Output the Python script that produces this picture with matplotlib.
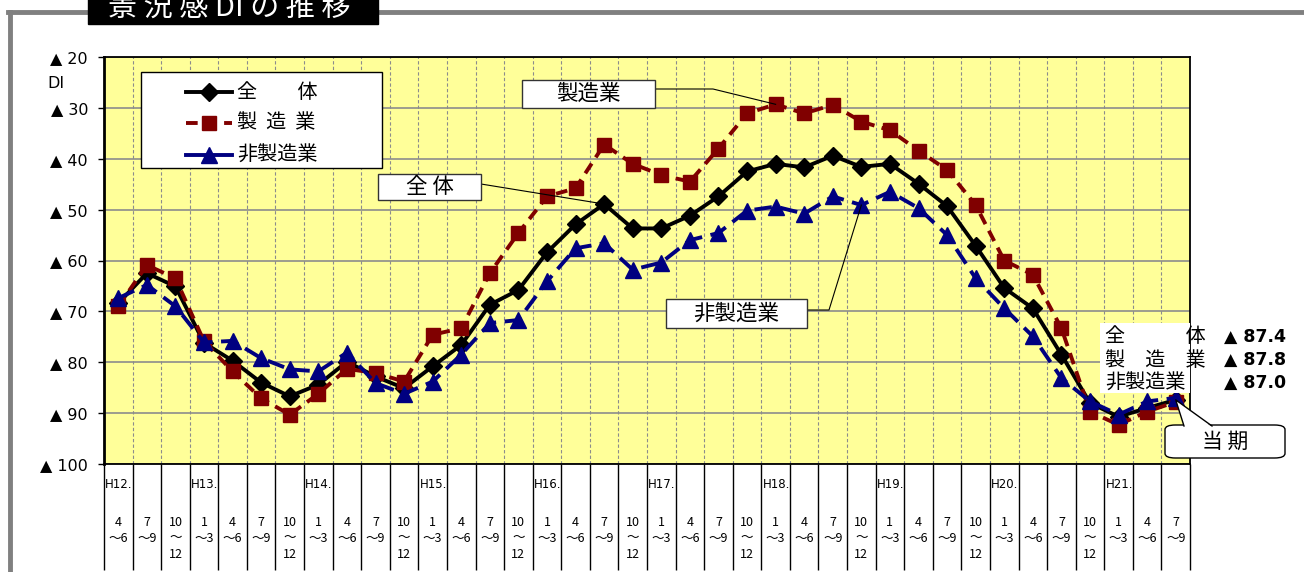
import numpy as np
import matplotlib.pyplot as plt
from matplotlib.lines import Line2D
from matplotlib.patches import Rectangle, FancyBboxPatch, Polygon

JP = ['Noto Sans CJK JP', 'DejaVu Sans']
NUM = ['DejaVu Sans', 'Noto Sans CJK JP']
plt.rcParams['font.family'] = JP

# --- data (DI, shown as negative values with ▲) ---
years = ['H12', 'H13', 'H14', 'H15', 'H16', 'H17', 'H18', 'H19', 'H20', 'H21']
quarter_rows = [('4', '～6', ''), ('7', '～9', ''), ('10', '～', '12'), ('1', '～3', '')]
first_quarter = 0   # H12 starts at 4~6
n_periods = 38

total = [68.4, 62.5, 65.1, 76.2, 79.7, 84.0, 86.7, 84.4, 79.9, 82.8, 85.1, 80.8,
         76.6, 68.7, 65.8, 58.4, 52.9, 48.9, 53.7, 53.7, 51.2, 47.4, 42.5, 41.0,
         41.7, 39.4, 41.6, 41.0, 44.9, 49.3, 57.1, 65.4, 69.4, 78.5, 88.0, 90.7,
         89.0, 87.4]
mfg = [69.0, 60.9, 63.5, 75.9, 81.8, 87.1, 90.3, 86.2, 81.3, 82.1, 83.8, 74.6,
       73.3, 62.5, 54.6, 47.4, 45.8, 37.2, 41.0, 43.2, 44.5, 38.0, 31.1, 29.3,
       31.1, 29.4, 32.7, 34.4, 38.4, 42.2, 49.1, 60.0, 62.8, 73.3, 89.7, 92.3,
       89.7, 87.8]
nonmfg = [67.4, 64.8, 69.0, 76.1, 75.8, 79.2, 81.4, 81.8, 78.1, 84.1, 86.2, 83.8,
          78.5, 72.3, 71.7, 64.1, 57.6, 56.6, 61.8, 60.4, 56.0, 54.6, 50.2, 49.4,
          50.8, 47.4, 49.1, 46.5, 49.7, 55.0, 63.5, 69.4, 74.9, 83.1, 87.7, 90.3,
          87.7, 87.0]

yticks = [20, 30, 40, 50, 60, 70, 80, 90, 100]
ytick_labels = ['▲ %d' % v for v in yticks]

series_names = ['全　　体', '製  造  業', '非製造業']
latest_names = ['全　　　体', '製　造　業', '非製造業']

# period labels
year_labels = []
q_labels = []
yi = 0
for i in range(n_periods):
    q = (first_quarter + i) % 4
    if q == 3:
        yi += 1
    year_labels.append(years[yi] + '.' if (i == 0 or q == 3) else '')
    q_labels.append(quarter_rows[q])

W, H = 1304, 572
fig = plt.figure(figsize=(W / 100, H / 100), dpi=100)

def fx(x):
    return x / W

def fy(y):
    return 1 - y / H

L, R, T, B = 104, 1190, 57, 464
ax = fig.add_axes([fx(L), fy(B), (R - L) / W, (B - T) / H])
ax.set_facecolor('#FFFF99')
ax.set_xlim(-0.5, n_periods - 0.5)
ax.set_ylim(100, 20)

x = np.arange(n_periods)
ax.plot(x, total, color='black', lw=2.8, marker='D', ms=9.5, zorder=4)
ax.plot(x, mfg, color='#800000', lw=2.8, dashes=(3, 1.9), marker='s', ms=10.5, zorder=5)
ax.plot(x, nonmfg, color='#000080', lw=2.8, dashes=(4.5, 2.2), marker='^', ms=11, zorder=6)

ax.set_yticks(yticks)
ax.set_yticklabels(ytick_labels, family=NUM, fontsize=11.5)
ax.set_xticks([])
ax.set_xticks(np.arange(-0.5, n_periods, 1), minor=True)
ax.tick_params(axis='x', which='both', length=0, labelbottom=False)
ax.tick_params(axis='y', length=4, width=1, pad=7.5)
ax.grid(axis='y', which='major', color='#8c8c8c', lw=1.2)
ax.grid(axis='x', which='minor', color='#8c8c8c', lw=0.8, ls=(0, (3, 2)))
ax.set_axisbelow(True)
for s in ax.spines.values():
    s.set_color('black')
    s.set_linewidth(1.3)
ax.spines['left'].set_linewidth(2)

# category table below the plot
tr = ax.get_xaxis_transform()
def ay(y):
    return (B - y) / (B - T)

ax.vlines(np.arange(-0.5, n_periods, 1), ay(570), 0, transform=tr, colors='black',
          lw=1, clip_on=False)
for i in range(n_periods):
    if year_labels[i]:
        ax.text(i - 0.46, ay(485), year_labels[i], transform=tr, fontsize=8.5,
                family=NUM, ha='left', va='center')
    for row, yy in zip(q_labels[i], [522, 538, 555]):
        if row:
            ax.text(i, ay(yy), row, transform=tr, fontsize=9, ha='center',
                    va='center')

fig.text(fx(56), fy(84), 'DI', family=NUM, fontsize=11.5, ha='center', va='center')

# outer frame and title
fig.add_artist(Line2D([fx(10), fx(10)], [fy(12), fy(575)], color='#808080', lw=3.5))
fig.add_artist(Line2D([fx(8), fx(1306)], [fy(12), fy(12)], color='#808080', lw=3.5))
fig.add_artist(Rectangle((fx(88), fy(24)), (378 - 88) / W, 30 / H,
                         transform=fig.transFigure, color='black', zorder=5))
fig.text(fx(108), fy(17), '景 況 感 DI の 推 移', color='white', fontsize=21,
         ha='left', va='baseline', zorder=6)

# legend box
fig.add_artist(Rectangle((fx(141), fy(168)), (382 - 141) / W, (168 - 72) / H,
                         transform=fig.transFigure, fc='white', ec='black', lw=1,
                         zorder=7))
styles = [dict(color='black', lw=2.8, marker='D', ms=9.5),
          dict(color='#800000', lw=2.8, dashes=(3, 1.9), marker='s', ms=10.5),
          dict(color='#000080', lw=2.8, marker='^', ms=11)]
for name, st, yy in zip(series_names, styles, [92, 123, 155]):
    ln = Line2D([fx(186), fx(209), fx(232)], [fy(yy)] * 3, transform=fig.transFigure,
                markevery=[1], zorder=8, **st)
    fig.add_artist(ln)
    fig.text(fx(237), fy(yy), name, fontsize=14.5, ha='left', va='center', zorder=8)

# label boxes with leader lines
def pt(i, v):
    d = ax.transData.transform((i, v))
    return d[0] / W, d[1] / H

def label_box(x0, y0, x1, y1, text):
    fig.add_artist(Rectangle((fx(x0), fy(y1)), (x1 - x0) / W, (y1 - y0) / H,
                             transform=fig.transFigure, fc='white', ec='#333333',
                             lw=1, zorder=7))
    fig.text(fx((x0 + x1) / 2), fy((y0 + y1) / 2), text, fontsize=15.5, ha='center',
             va='center', zorder=8)

label_box(522, 80, 655, 108, '製造業')
p = pt(23, mfg[23])
fig.add_artist(Line2D([fx(656), fx(713), p[0]], [fy(89), fy(89), p[1]],
                      color='black', lw=0.8, zorder=3))

label_box(378, 174, 481, 200, '全 体')
p = pt(17, total[17])
fig.add_artist(Line2D([fx(481), p[0]], [fy(184), p[1]], color='black', lw=0.8,
                      zorder=3))

label_box(666, 299, 807, 328, '非製造業')
p = pt(26, nonmfg[26])
fig.add_artist(Line2D([fx(807), fx(829), p[0]], [fy(310), fy(310), p[1]],
                      color='black', lw=0.8, zorder=3))

# latest values
fig.add_artist(Rectangle((fx(1100), fy(393)), 90 / W, 70 / H,
                         transform=fig.transFigure, fc='white', ec='none', zorder=7))
latest = [total[-1], mfg[-1], nonmfg[-1]]
for name, v, yy in zip(latest_names, latest, [337, 360, 383]):
    fig.text(fx(1105), fy(yy), name, fontsize=14.5, ha='left', va='center', zorder=8)
    fig.text(fx(1286), fy(yy), '▲ %.1f' % v, family=NUM, fontsize=12.5,
             fontweight='bold', ha='right', va='center', zorder=8)

# current-period callout
tip = pt(n_periods - 1, total[-1])
fig.add_artist(FancyBboxPatch((fx(1165), fy(458)), 120 / W, 33 / H,
                              boxstyle='round,pad=0,rounding_size=0.008',
                              transform=fig.transFigure, fc='white', ec='black',
                              lw=1, zorder=9))
fig.add_artist(Polygon([(fx(1184), fy(427)), tip, (fx(1212), fy(427))],
                       closed=True, transform=fig.transFigure, fc='white',
                       ec='none', zorder=10))
fig.add_artist(Line2D([fx(1184), tip[0], fx(1212)], [fy(426), tip[1], fy(426)],
                      color='black', lw=1, zorder=10))
fig.text(fx(1225), fy(442), '当 期', fontsize=15, ha='center', va='center',
         zorder=11)

fig.savefig('out.png', dpi=100)
